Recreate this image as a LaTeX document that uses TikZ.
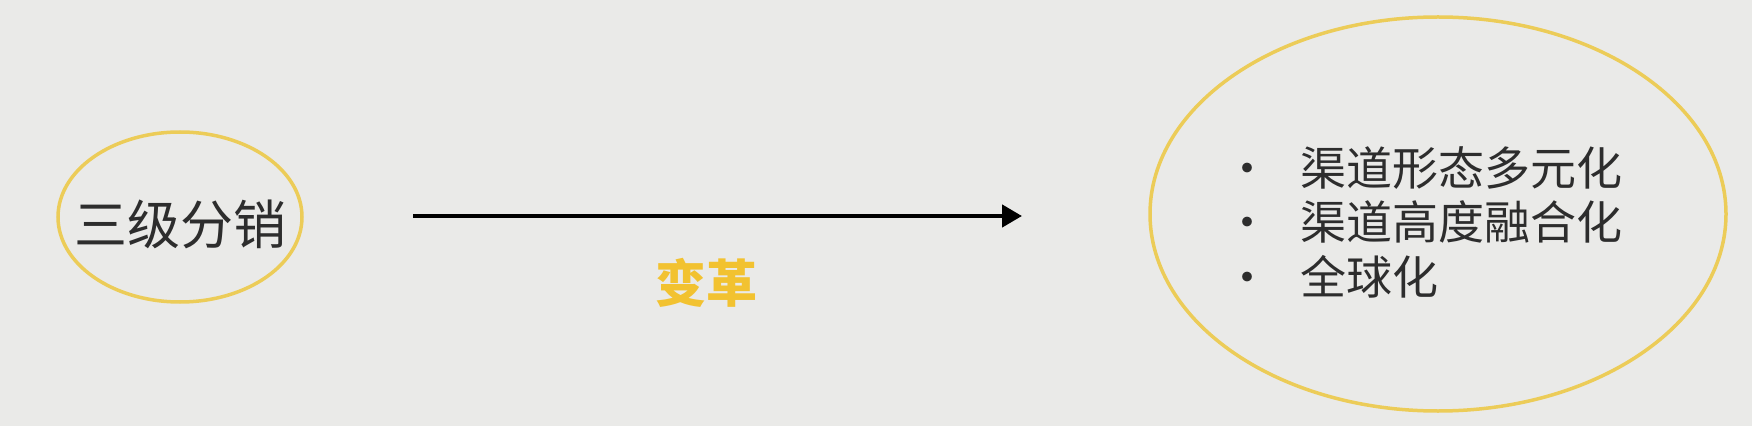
\documentclass[tikz,border=0pt]{standalone}
\usepackage{fontspec}
\setmainfont{Noto Sans CJK SC}
\usetikzlibrary{positioning, arrows.meta, shapes.geometric}
\definecolor{slidebg}{RGB}{234,234,232}
\definecolor{ringgold}{RGB}{236,204,88}
\definecolor{labelgold}{RGB}{242,194,48}
\definecolor{inkgrey}{RGB}{45,45,45}
\tikzset{ring/.style={ellipse, draw=ringgold, line width=3.5pt, inner sep=0pt}}
\tikzset{arr/.style={draw, -{Triangle[length=20pt, width=22pt]}, line width=4.5pt}}
\tikzset{slidetext/.style={text=inkgrey, inner sep=0pt}}

\begin{document}
\begin{tikzpicture}[x=1pt, y=1pt]
  \fill[slidebg] (0,0) rectangle (1752,426);
  \useasboundingbox (0,0) rectangle (1752,426);
  %
  \node[ring, minimum width=244pt, minimum height=170pt] (old) at (180,209) {};
  \node[slidetext, font=\fontsize{53}{53}\selectfont] (oldtxt) at (180,202) {三级分销};
  %
  \coordinate (from) at (413,210);
  \coordinate (to) at (1022,210);
  \draw[arr] (from) -- (to);
  \node[text=labelgold, inner sep=0pt, font=\bfseries\fontsize{51}{51}\selectfont] (change) at (706,143) {变革};
  %
  \node[ring, minimum width=576pt, minimum height=394pt] (new) at (1438,212) {};
  \node[slidetext, anchor=west, font=\fontsize{46}{51}\selectfont] (trends) at (1224,198) {%
    \begin{tabular}{@{}l@{\hspace{30pt}}l@{}}
      • & 渠道形态多元化\\
      • & 渠道高度融合化\\
      • & 全球化
    \end{tabular}};
\end{tikzpicture}
\end{document}
